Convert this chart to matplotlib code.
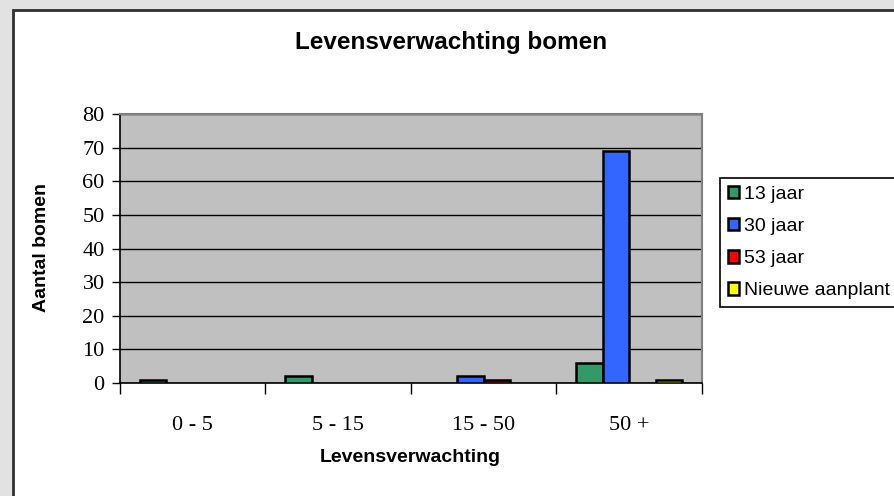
import matplotlib
matplotlib.use("Agg")
import matplotlib.pyplot as plt
import numpy as np
from matplotlib.patches import Rectangle

categories = ["0 - 5", "5 - 15", "15 - 50", "50 +"]
series_names = ["13 jaar", "30 jaar", "53 jaar", "Nieuwe aanplant"]
values_13 = [1, 2, 0, 6]
values_30 = [0, 0, 2, 69]
values_53 = [0, 0, 1, 0]
values_new = [0, 0, 0, 1]
colors = ["#339966", "#3366FF", "#FF0000", "#FFFF00"]
y_ticks = [0, 10, 20, 30, 40, 50, 60, 70, 80]

W, H = 895, 496
fig = plt.figure(figsize=(W / 100, H / 100), dpi=100, facecolor="#E2E2E2")

# white chart area with dark border
panel = Rectangle((13 / W, -0.1), 1.2, 1 - 10 / H + 0.1, transform=fig.transFigure,
                  facecolor="white", edgecolor="#303030", linewidth=2, zorder=-5)
fig.patches.append(panel)

ax = fig.add_axes([120 / W, 1 - 383 / H, (702 - 120) / W, (383 - 114) / H])
ax.set_facecolor("#C0C0C0")

series = [values_13, values_30, values_53, values_new]
n = len(series)
bw = 1 / (n + 1.5)
x = np.arange(len(categories))
for i, (vals, c, name) in enumerate(zip(series, colors, series_names)):
    offs = (i - (n - 1) / 2) * bw
    # empty categories get no outline
    lws = [1.8 if v > 0 else 0 for v in vals]
    ax.bar(x + offs, vals, width=bw, color=c, edgecolor="black", linewidth=lws,
           label=name, zorder=3)

ax.set_xlim(-0.5, len(categories) - 0.5)
ax.set_ylim(0, 80)
ax.set_yticks(y_ticks)
ax.set_yticklabels([str(v) for v in y_ticks], fontfamily="Liberation Serif", fontsize=16)
ax.yaxis.grid(True, color="black", linewidth=1, zorder=1)
ax.set_axisbelow(True)

ax.set_xticks(np.arange(-0.5, len(categories), 1.0))
ax.set_xticklabels([])
ax.set_xticks(x, minor=True)
ax.set_xticklabels(categories, minor=True, fontfamily="Liberation Serif", fontsize=16)
ax.tick_params(axis="x", which="major", direction="out", length=8, width=1, color="black")
ax.tick_params(axis="x", which="minor", length=0, pad=24)
ax.tick_params(axis="y", direction="out", length=6, width=1, pad=5)

for s in ["left", "bottom"]:
    ax.spines[s].set_color("black")
    ax.spines[s].set_linewidth(1.2)
for s in ["top", "right"]:
    ax.spines[s].set_color("#808080")
    ax.spines[s].set_linewidth(1.5)

fig.text(451 / W, 1 - 42 / H, "Levensverwachting bomen", ha="center", va="center",
         fontfamily="Liberation Sans", fontweight="bold", fontsize=17.5)
fig.text(410 / W, 1 - 457 / H, "Levensverwachting", ha="center", va="center",
         fontfamily="Liberation Sans", fontweight="bold", fontsize=14)
fig.text(42 / W, 1 - 248 / H, "Aantal bomen", ha="center", va="center", rotation=90,
         fontfamily="Liberation Sans", fontweight="bold", fontsize=14)

handles, labels = ax.get_legend_handles_labels()
leg = fig.legend(handles, labels, loc="upper left", bbox_to_anchor=(720 / W, 1 - 178 / H),
                 frameon=True, fancybox=False, edgecolor="black", framealpha=1,
                 prop={"family": "Liberation Sans", "size": 14},
                 handlelength=0.6, handleheight=0.6, handletextpad=0.25,
                 labelspacing=0.78, borderpad=0.4, borderaxespad=0)
leg.get_frame().set_linewidth(1.2)
for h in leg.legend_handles:
    h.set_linewidth(1.8)

fig.savefig("out.png", dpi=100, facecolor=fig.get_facecolor())
